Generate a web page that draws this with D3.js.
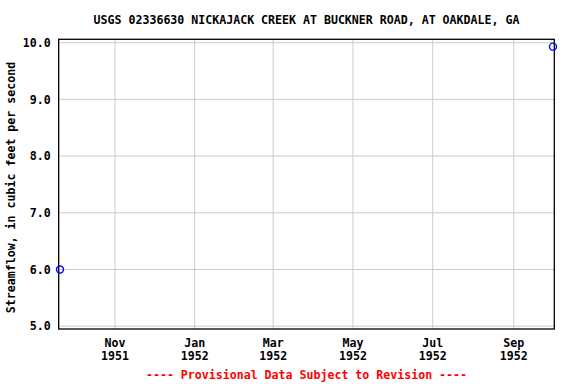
<!DOCTYPE html>
<html><head><meta charset="utf-8">
<script src="https://cdn.jsdelivr.net/npm/d3@7"></script>
<style>body{margin:0;background:#fff}svg{display:block}text{font-family:"DejaVu Sans Mono",monospace;font-weight:bold}</style>
</head><body><svg id="c" width="576" height="384"></svg>
<script>
const title = "USGS 02336630 NICKAJACK CREEK AT BUCKNER ROAD, AT OAKDALE, GA";
const yLabel = "Streamflow, in cubic feet per second";
const footer = "---- Provisional Data Subject to Revision ----";
const dates = ["1951-09-20", "1952-10-01"];
const flows = [6.0, 9.93];
const yTicks = [5, 6, 7, 8, 9, 10];
const xTickDates = ["1951-11-01", "1952-01-01", "1952-03-01", "1952-05-01", "1952-07-01", "1952-09-01"];
const xDomain = ["1951-09-19", "1952-10-02"];
const yDomain = [4.95, 10.06];

const parse = d3.utcParse("%Y-%m-%d");
const svg = d3.select("#c");
const L = 58.7, R = 554.3, T = 39.3, B = 329;
const x = d3.scaleUtc().domain(xDomain.map(parse)).range([L, R]);
const y = d3.scaleLinear().domain(yDomain).range([B, T]);
const FS = "11.6px";

const g = svg.append("g");
g.selectAll(".gx").data(xTickDates.map(parse)).enter().append("line")
  .attr("x1", d => x(d)).attr("x2", d => x(d)).attr("y1", T).attr("y2", B)
  .attr("stroke", "#cccccc").attr("stroke-width", 1);
g.selectAll(".gy").data(yTicks).enter().append("line")
  .attr("x1", L).attr("x2", R).attr("y1", d => y(d)).attr("y2", d => y(d))
  .attr("stroke", "#cccccc").attr("stroke-width", 1);
g.append("rect").attr("x", L).attr("y", T).attr("width", R - L).attr("height", B - T)
  .attr("fill", "none").attr("stroke", "#000").attr("stroke-width", 1.3);

const yAxis = d3.axisLeft(y).tickValues(yTicks).tickFormat(d3.format(".1f")).tickSize(0).tickPadding(8);
const ya = svg.append("g").attr("transform", `translate(${L},0)`).call(yAxis);
ya.select(".domain").remove();
ya.selectAll("text").attr("font-size", FS).attr("fill", "#000").attr("font-family", '"DejaVu Sans Mono",monospace').attr("font-weight", "bold");

const fmtM = d3.utcFormat("%b"), fmtY = d3.utcFormat("%Y");
const xa = svg.append("g");
xTickDates.map(parse).forEach(d => {
  xa.append("text").attr("x", x(d)).attr("y", 347).attr("text-anchor", "middle").attr("font-size", FS).text(fmtM(d));
  xa.append("text").attr("x", x(d)).attr("y", 359.5).attr("text-anchor", "middle").attr("font-size", FS).text(fmtY(d));
});

svg.selectAll(".pt").data(dates.map((d, i) => ({d: parse(d), v: flows[i]}))).enter().append("circle")
  .attr("cx", d => x(d.d)).attr("cy", d => y(d.v)).attr("r", 3.5)
  .attr("fill", "none").attr("stroke", "#0000ff").attr("stroke-width", 1.4);

svg.append("text").attr("x", (L + R) / 2).attr("y", 24).attr("text-anchor", "middle").attr("font-size", FS).text(title);
svg.append("text").attr("transform", `translate(15,187.5) rotate(-90)`).attr("text-anchor", "middle").attr("font-size", FS).text(yLabel);
svg.append("text").attr("x", (L + R) / 2).attr("y", 379).attr("text-anchor", "middle").attr("font-size", FS).attr("fill", "#ff0000").text(footer);
</script></body></html>
